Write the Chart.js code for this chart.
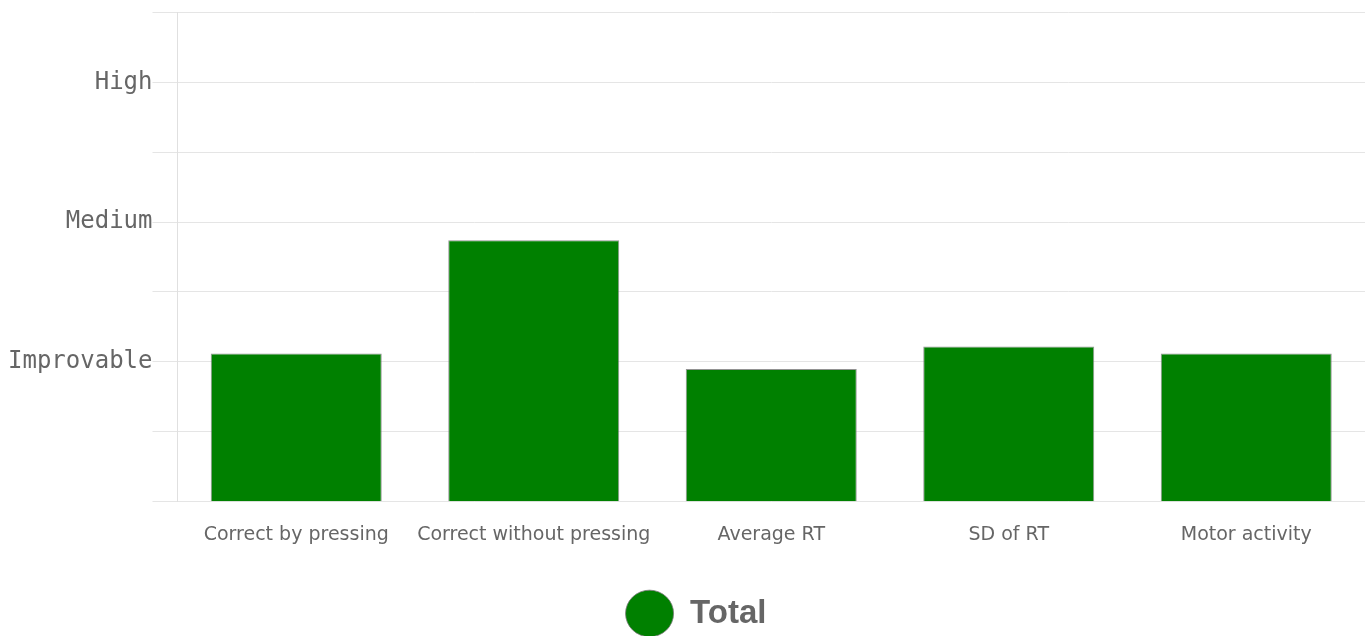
<!DOCTYPE html>
<html>
<head>
<meta charset="utf-8">
<script src="https://cdn.jsdelivr.net/npm/chart.js@4/dist/chart.umd.min.js"></script>
<style>
  html, body { margin: 0; padding: 0; background: #fff; overflow: hidden; }
  #outer { width: 1365px; height: 636px; overflow: hidden; position: relative; }
  #wrap { width: 1365px; height: 642px; position: absolute; top: -2px; left: 0; }
</style>
</head>
<body>
<div id="outer"><div id="wrap"><canvas id="chart"></canvas></div></div>
<script>
const categories = ['Correct by pressing', 'Correct without pressing', 'Average RT', 'SD of RT', 'Motor activity'];
const totalValues = [1.06, 1.87, 0.95, 1.11, 1.06];
const levelLabels = { 1: 'Improvable', 2: 'Medium', 3: 'High' };

// the legend in the original sits a little right of centre
const legendShift = {
    id: 'legendShift',
    afterLayout: function (chart) {
        chart.legend.left += 19;
    }
};

let ctx = document.getElementById('chart');
let myChart = new Chart(ctx, {
    type: 'bar',
    data: {
        labels: categories,
        datasets: [{
            label: 'Total',
            data: totalValues,
            backgroundColor: '#008000',
            borderColor: 'rgba(120, 120, 120, 0.8)',
            borderWidth: 1
        }]
    },
    options: {
        responsive: true,
        maintainAspectRatio: false,
        animation: false,
        layout: { padding: { left: 8, right: 0, top: 0, bottom: 0 } },
        scales: {
            x: {
                grid: { display: false },
                border: { display: false },
                ticks: {
                    color: '#666',
                    font: { family: 'DejaVu Sans', size: 19 },
                    maxRotation: 0,
                    padding: 14
                }
            },
            y: {
                min: 0,
                max: 3.5,
                grid: { color: '#e5e5e5', tickLength: 25 },
                border: { color: '#e0e0e0' },
                ticks: {
                    stepSize: 0.5,
                    padding: 0,
                    color: '#666',
                    font: { family: 'DejaVu Sans Mono', size: 24 },
                    callback: (v) => levelLabels[v] || ''
                }
            }
        },
        plugins: {
            tooltip: { enabled: false },
            legend: {
                position: 'bottom',
                labels: {
                    usePointStyle: true,
                    pointStyle: 'circle',
                    pointStyleWidth: 48,
                    color: '#666',
                    font: { family: 'Liberation Sans', size: 33, weight: 'bold' },
                    padding: 36.5
                }
            }
        }
    },
    plugins: [legendShift]
});
</script>
</body>
</html>
